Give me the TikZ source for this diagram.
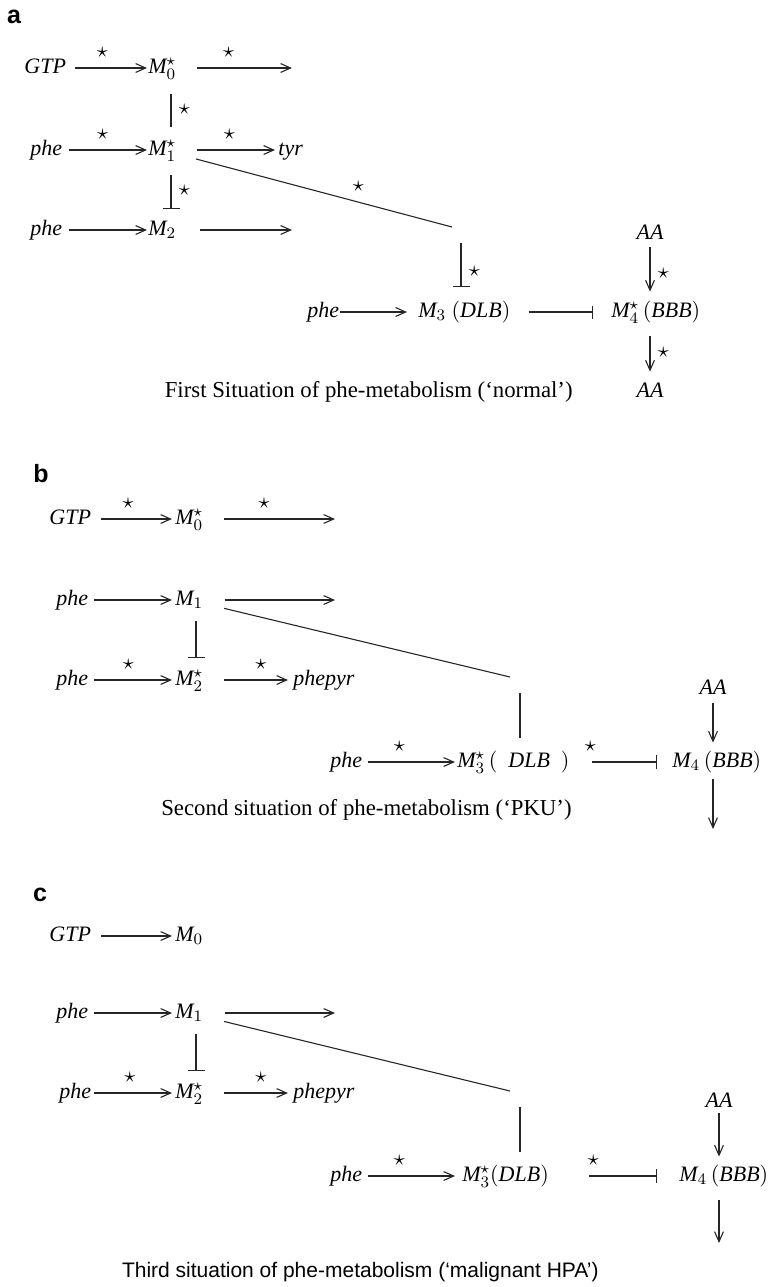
\documentclass[tikz,border=0pt]{standalone}
\usepackage{fontspec}
\setmainfont{Liberation Serif}
\setsansfont{Liberation Sans}
\DeclareMathSizes{11}{11}{8.5}{6}
\usetikzlibrary{arrows.meta,calc}
\tikzset{
 mol/.style={inner sep=0pt, text height=8.25pt, text depth=2.75pt, font=\fontsize{11}{13}\selectfont},
 act/.style={-{Straight Barb[length=5pt,width=4.4pt]}, line width=0.55pt, draw=black!85},
 inh/.style={-{Bar[width=#1]}, line width=0.55pt, draw=black!85},
 inh/.default=8.5pt,
 bond/.style={line width=0.55pt, draw=black!85},
 sl/.style={inner sep=0pt, font=\fontsize{11}{13}\selectfont},
 captn/.style={inner sep=0pt, anchor=base east, font=\fontsize{11.4}{13}\selectfont},
 panel/.style={inner sep=0pt, font=\sffamily\bfseries\fontsize{12.5}{14}\selectfont},
}
\begin{document}
\begin{tikzpicture}[x=0.5pt, y=-0.5pt]
\useasboundingbox (0,0) rectangle (773,1287);

% (a) normal situation
\node[panel] (labA) at (14,17) {a};
\node[mol, anchor=west] (gtpA) at (24,68) {$\mathit{GTP}$};
\node[mol, anchor=west] (m0A) at (148,68) {$\mathit{M}_{0}^{\star}$};
\coordinate (e0A) at (292,68);
\node[mol, anchor=west] (phe1A) at (30,150) {$\mathit{phe}$};
\node[mol, anchor=west] (m1A) at (148,150) {$\mathit{M}_{1}^{\star}$};
\node[mol, anchor=west] (tyrA) at (278,150) {$\mathit{tyr}$};
\node[mol, anchor=west] (phe2A) at (30,230) {$\mathit{phe}$};
\node[mol, anchor=west] (m2A) at (148,230) {$\mathit{M}_{2}$};
\coordinate (e2A) at (292,230);
\coordinate (dA) at (452,227);
\coordinate (vA) at (461,227);
\node[mol, anchor=west] (phe3A) at (307,312) {$\mathit{phe}$};
\node[mol, anchor=west] (m3A) at (418,312) {$\mathit{M}_{3}\ (\mathit{DLB})$};
\node[mol, anchor=west] (m4A) at (611,312) {$\mathit{M}_{4}^{\star}\,(\mathit{BBB})$};
\node[mol] (aa1A) at (650,234) {$\mathit{AA}$};
\node[mol] (aa2A) at (650,392) {$\mathit{AA}$};
\coordinate (colA) at (171,0);
\node[captn] (capA) at (573,397) {First Situation of phe-metabolism (`normal')};

\draw[act, shorten <=4.2pt, shorten >=0.5pt] (gtpA) -- node[sl, pos=.44, above=4.9pt] {$\star$} (m0A);
\draw[act, shorten <=10pt] (m0A) -- node[sl, pos=.45, above=4.9pt] {$\star$} (e0A);
\draw[bond, shorten <=7.5pt, shorten >=6pt] (colA |- m0A.south) -- node[sl, right=3.7pt] {$\star$} (colA |- m1A.north);
\draw[act, shorten <=3pt, shorten >=0.5pt] (phe1A) -- node[sl, pos=.47, above=4.9pt] {$\star$} (m1A);
\draw[act, shorten <=10pt, shorten >=1.5pt] (m1A) -- node[sl, pos=.52, above=4.9pt] {$\star$} (tyrA);
\draw[inh, shorten <=7pt, shorten >=5pt] (colA |- m1A.south) -- node[sl, right=3.7pt] {$\star$} (colA |- m2A.north);
\draw[act, shorten <=3pt, shorten >=0.5pt] (phe2A) -- (m2A);
\draw[act, shorten <=11.5pt] (m2A) -- (e2A);
\draw[bond, shorten <=10pt] (m1A) -- node[sl, pos=.66, above=5pt] {$\star$} (dA);
\draw[inh, shorten <=8pt, shorten >=7pt] (vA) -- node[sl, pos=.6, right=3.7pt] {$\star$} (vA |- m3A.north);
\draw[act, shorten >=5.5pt] (phe3A) -- (m3A);
\draw[inh=6.5pt, shorten <=9pt, shorten >=9pt] (m3A) -- (m4A);
\draw[act, shorten <=1pt, shorten >=4.5pt] (aa1A) -- node[sl, right=3.7pt] {$\star$} (aa1A |- m4A.north);
\draw[act, shorten <=6.5pt, shorten >=4.5pt] (aa1A |- m4A.south) -- node[sl, right=3.7pt] {$\star$} (aa2A);

% (b) PKU
\node[panel] (labB) at (41,474) {b};
\node[mol, anchor=west] (gtpB) at (49,519) {$\mathit{GTP}$};
\node[mol, anchor=west] (m0B) at (175,519) {$\mathit{M}_{0}^{\star}$};
\coordinate (e0B) at (335,519);
\node[mol, anchor=west] (phe1B) at (56,600) {$\mathit{phe}$};
\node[mol, anchor=west] (m1B) at (175,600) {$\mathit{M}_{1}$};
\coordinate (e1B) at (335,600);
\node[mol, anchor=west] (phe2B) at (56,680) {$\mathit{phe}$};
\node[mol, anchor=west] (m2B) at (175,680) {$\mathit{M}_{2}^{\star}$};
\node[mol, anchor=west] (pyrB) at (293,680) {$\mathit{phepyr}$};
\coordinate (dB) at (510,677);
\coordinate (vB) at (520,677);
\node[mol, anchor=west] (phe3B) at (330,762) {$\mathit{phe}$};
\node[mol, anchor=west] (m3B) at (457,762) {$\mathit{M}_{3}^{\star}\,(\enspace\mathit{DLB}\enspace)$};
\node[mol, anchor=west] (m4B) at (672,762) {$\mathit{M}_{4}\,(\mathit{BBB})$};
\node[mol] (aaB) at (713,689) {$\mathit{AA}$};
\coordinate (eB) at (713,829);
\coordinate (colB) at (196,0);
\node[captn] (capB) at (572,815) {Second situation of phe-metabolism (`PKU')};

\draw[act, shorten <=4.7pt, shorten >=1.5pt] (gtpB) -- node[sl, pos=.44, above=4.9pt] {$\star$} (m0B);
\draw[act, shorten <=10pt] (m0B) -- node[sl, pos=.46, above=4.9pt] {$\star$} (e0B);
\draw[act, shorten <=2.6pt, shorten >=1.5pt] (phe1B) -- (m1B);
\draw[act, shorten <=10.5pt] (m1B) -- (e1B);
\draw[bond, shorten <=10.5pt] (m1B) -- (dB);
\draw[inh, shorten <=5pt, shorten >=5.5pt] (colB |- m1B.south) -- (colB |- m2B.north);
\draw[act, shorten <=2.6pt, shorten >=1.5pt] (phe2B) -- node[sl, pos=.46, above=4.9pt] {$\star$} (m2B);
\draw[act, shorten <=10pt, shorten >=2.5pt] (m2B) -- node[sl, pos=.64, above=4.9pt] {$\star$} (pyrB);
\draw[bond, shorten <=8pt, shorten >=6.5pt] (vB) -- (vB |- m3B.north);
\draw[act, shorten <=2.6pt, shorten >=1pt] (phe3B) -- node[sl, pos=.39, above=4.9pt] {$\star$} (m3B);
\draw[inh=7pt, shorten <=11pt, shorten >=7.5pt] (m3B) -- node[sl, pos=.2, above=4.9pt] {$\star$} (m4B);
\draw[act, shorten <=1.5pt, shorten >=4pt] (aaB) -- (aaB |- m4B.north);
\draw[act, shorten <=3pt] (aaB |- m4B.south) -- (eB);

% (c) malignant HPA
\node[panel] (labC) at (40,895) {c};
\node[mol, anchor=west] (gtpC) at (49,936) {$\mathit{GTP}$};
\node[mol, anchor=west] (m0C) at (175,936) {$\mathit{M}_{0}$};
\node[mol, anchor=west] (phe1C) at (56,1013) {$\mathit{phe}$};
\node[mol, anchor=west] (m1C) at (175,1013) {$\mathit{M}_{1}$};
\coordinate (e1C) at (335,1013);
\node[mol, anchor=west] (phe2C) at (59,1093) {$\mathit{phe}$};
\node[mol, anchor=west] (m2C) at (175,1093) {$\mathit{M}_{2}^{\star}$};
\node[mol, anchor=west] (pyrC) at (293,1093) {$\mathit{phepyr}$};
\coordinate (dC) at (510,1091);
\coordinate (vC) at (520,1091);
\node[mol, anchor=west] (phe3C) at (330,1176) {$\mathit{phe}$};
\node[mol, anchor=west] (m3C) at (462,1176) {$\mathit{M}_{3}^{\star}(\mathit{DLB})$};
\node[mol, anchor=west] (m4C) at (679,1176) {$\mathit{M}_{4}\,(\mathit{BBB})$};
\node[mol] (aaC) at (719,1102) {$\mathit{AA}$};
\coordinate (eC) at (719,1243);
\coordinate (colC) at (196,0);
\node[captn, font=\sffamily\fontsize{10.5}{13}\selectfont] (capC) at (599,1277) {Third situation of phe-metabolism (`malignant HPA')};

\draw[act, shorten <=4.7pt, shorten >=1.5pt] (gtpC) -- (m0C);
\draw[act, shorten <=2.6pt, shorten >=1.5pt] (phe1C) -- (m1C);
\draw[act, shorten <=10.5pt] (m1C) -- (e1C);
\draw[bond, shorten <=10.5pt] (m1C) -- (dC);
\draw[inh, shorten <=5pt, shorten >=5.5pt] (colC |- m1C.south) -- (colC |- m2C.north);
\draw[act, shorten <=1pt, shorten >=1.5pt] (phe2C) -- node[sl, pos=.46, above=4.9pt] {$\star$} (m2C);
\draw[act, shorten <=10pt, shorten >=2.5pt] (m2C) -- node[sl, pos=.64, above=4.9pt] {$\star$} (pyrC);
\draw[bond, shorten <=8pt, shorten >=6.5pt] (vC) -- (vC |- m3C.north);
\draw[act, shorten <=2.6pt, shorten >=3.5pt] (phe3C) -- node[sl, pos=.37, above=4.9pt] {$\star$} (m3C);
\draw[inh=7pt, shorten <=20pt, shorten >=11pt] (m3C) -- node[sl, pos=.34, above=4.9pt] {$\star$} (m4C);
\draw[act, shorten >=4pt] (aaC) -- (aaC |- m4C.north);
\draw[act, shorten <=6.5pt] (aaC |- m4C.south) -- (eC);
\end{tikzpicture}
\end{document}
